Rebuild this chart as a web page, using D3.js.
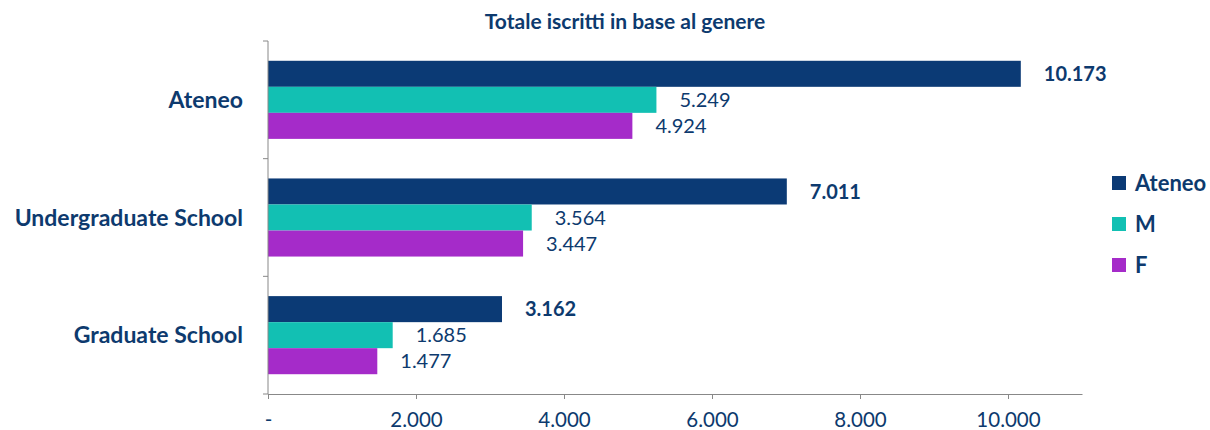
<!DOCTYPE html>
<meta charset="UTF-8">
<title>Totale iscritti in base al genere</title>
<style>
  body { margin: 0; background: #fff; }
  text { font-family: Lato, "Open Sans", sans-serif; }
</style>
<script src="https://d3js.org/d3.v7.min.js"></script>
<body>
<script>
  // data
  var categories = ["Ateneo", "Undergraduate School", "Graduate School"];
  var seriesNames = ["Ateneo", "M", "F"];
  var ateneo = [10173, 7011, 3162];
  var maschi = [5249, 3564, 1685];
  var femmine = [4924, 3447, 1477];
  var tickValues = [0, 2000, 4000, 6000, 8000, 10000];
  var colors = ["#0b3a75", "#12c0b3", "#a52bc9"];
  var navy = "#0d3a6e";

  var series = [ateneo, maschi, femmine];

  var svg = d3.select("body").append("svg").attr("width", 1210).attr("height", 430);

  var x = d3.scaleLinear().domain([0, 11000]).range([268, 1082]);
  var y0 = d3.scaleBand().domain(categories).range([41, 394]).padding(0);
  var y1 = d3.scaleBand().domain(seriesNames).range([0, y0.bandwidth()]).paddingOuter(0.76).paddingInner(0);

  var fmt = function(v) { return v === 0 ? "-" : d3.format(",")(v).replace(/,/g, "."); };

  // title
  svg.append("text")
    .attr("x", 625).attr("y", 29)
    .attr("text-anchor", "middle")
    .style("font-size", "21px").style("font-weight", "bold")
    .style("fill", navy)
    .text("Totale iscritti in base al genere");

  // bars
  var groups = svg.append("g").selectAll("g")
    .data(categories)
    .enter().append("g")
    .attr("transform", function(d) { return "translate(0," + y0(d) + ")"; });

  groups.selectAll("rect")
    .data(function(c, i) { return seriesNames.map(function(s, j) { return { s: s, j: j, v: series[j][i] }; }); })
    .enter().append("rect")
    .attr("x", x(0))
    .attr("y", function(d) { return y1(d.s); })
    .attr("width", function(d) { return x(d.v) - x(0); })
    .attr("height", y1.bandwidth())
    .style("fill", function(d) { return colors[d.j]; });

  groups.selectAll("text")
    .data(function(c, i) { return seriesNames.map(function(s, j) { return { s: s, j: j, v: series[j][i] }; }); })
    .enter().append("text")
    .attr("x", function(d) { return x(d.v) + 23; })
    .attr("y", function(d) { return y1(d.s) + y1.bandwidth() / 2; })
    .attr("dy", "0.36em")
    .style("font-size", "20px")
    .style("font-weight", function(d) { return d.j === 0 ? "bold" : "normal"; })
    .style("fill", navy)
    .text(function(d) { return fmt(d.v); });

  // x axis
  var xAxis = svg.append("g")
    .attr("transform", "translate(0,394)")
    .call(d3.axisBottom(x).tickValues(tickValues).tickSize(5).tickPadding(13).tickFormat(fmt).tickSizeOuter(0));
  xAxis.select(".domain").style("stroke", "#888");
  xAxis.selectAll(".tick line").style("stroke", "#888");
  xAxis.selectAll(".tick text").style("font-size", "20.5px").style("fill", navy).style("font-family", "Lato, sans-serif");

  // y axis with ticks at category boundaries
  var yAxis = svg.append("g").attr("transform", "translate(268,0)");
  yAxis.append("line").attr("x1", 0).attr("x2", 0).attr("y1", y0.range()[0]).attr("y2", y0.range()[1]).style("stroke", "#888");
  var bounds = categories.map(function(c) { return y0(c); }).concat([y0.range()[1]]);
  yAxis.selectAll(".bt").data(bounds).enter().append("line")
    .attr("x1", -5).attr("x2", 0)
    .attr("y1", function(d) { return d; }).attr("y2", function(d) { return d; })
    .style("stroke", "#888");
  yAxis.selectAll("text").data(categories).enter().append("text")
    .attr("x", -25)
    .attr("y", function(d) { return y0(d) + y0.bandwidth() / 2; })
    .attr("dy", "0.36em")
    .attr("text-anchor", "end")
    .style("font-size", "23px").style("font-weight", "bold")
    .style("fill", navy)
    .text(function(d) { return d; });

  // legend
  var legend = svg.append("g").selectAll("g")
    .data(seriesNames)
    .enter().append("g")
    .attr("transform", function(d, i) { return "translate(1112," + (183 + i * 41) + ")"; });
  legend.append("rect")
    .attr("x", 0).attr("y", -7).attr("width", 14).attr("height", 14)
    .style("fill", function(d, i) { return colors[i]; });
  legend.append("text")
    .attr("x", 23).attr("y", 0).attr("dy", "0.36em")
    .style("font-size", "22px").style("font-weight", "bold")
    .style("fill", navy)
    .text(function(d) { return d; });
</script>
</body>
